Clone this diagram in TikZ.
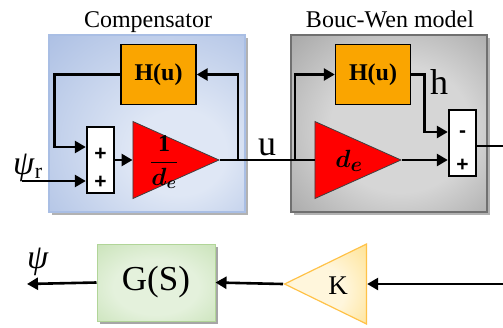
\documentclass[tikz,border=0pt]{standalone}
\usepackage{fontspec}
\setmainfont{Liberation Serif}
\setsansfont{Liberation Sans}
\usepackage{bm}
\usetikzlibrary{arrows.meta,shapes.geometric,shadows}

\definecolor{compdark}{HTML}{7F9CD4}
\definecolor{complight}{HTML}{DFE7F5}
\definecolor{compedge}{HTML}{A9BEE4}
\definecolor{boucdark}{HTML}{606060}
\definecolor{bouclight}{HTML}{D6D6D6}
\definecolor{boucedge}{HTML}{707070}
\definecolor{hyst}{HTML}{FAA500}
\definecolor{gainred}{HTML}{FF0000}
\definecolor{plantdark}{HTML}{A3CE86}
\definecolor{plantlight}{HTML}{E4F1DC}
\definecolor{kdark}{HTML}{FFD35A}
\definecolor{klight}{HTML}{FFF6DC}

\pgfdeclareradialshading{compshade}{\pgfpoint{10bp}{-10bp}}{color(0bp)=(complight); color(12bp)=(complight); color(68bp)=(compdark)}
\pgfdeclareradialshading{boucshade}{\pgfpoint{4bp}{-2bp}}{color(0bp)=(bouclight); color(18bp)=(bouclight); color(68bp)=(boucdark)}
\pgfdeclareradialshading{plantshade}{\pgfpoint{0bp}{-4bp}}{color(0bp)=(plantlight); color(18bp)=(plantlight); color(66bp)=(plantdark)}
\pgfdeclareradialshading{kshade}{\pgfpoint{-6bp}{-6bp}}{color(0bp)=(klight); color(16bp)=(klight); color(56bp)=(kdark)}

\begin{document}
\begin{tikzpicture}[
  x=1pt, y=-1pt,
  >={Triangle[length=11pt,width=12pt]},
  sig/.style={draw=black, line width=2.6pt},
  panel/.style={rectangle, minimum width=196pt, minimum height=177pt, line width=1.5pt,
    drop shadow={shadow xshift=3pt, shadow yshift=-3pt, fill=black!30, opacity=1}},
  ptitle/.style={font=\fontsize{24}{26}\selectfont, anchor=base, inner sep=0pt},
  hblock/.style={rectangle, draw=black, fill=hyst, line width=1.4pt, minimum width=75pt,
    minimum height=60pt, font=\bfseries\fontsize{24}{26}\selectfont},
  sumblock/.style={rectangle, draw=black, fill=white, line width=2.4pt, minimum width=27pt, minimum height=66pt},
  sgn/.style={font=\sffamily\bfseries\fontsize{21}{22}\selectfont, inner sep=0pt},
  gain/.style={isosceles triangle, isosceles triangle stretches, draw=black!75, fill=gainred,
    line width=0.8pt, inner sep=0pt, minimum width=77pt, minimum height=86pt, anchor=apex},
  sig label/.style={font=\fontsize{36}{38}\selectfont, inner sep=0pt},
]
\useasboundingbox (0,0) rectangle (503,327);

% compensator
\node[panel, draw=compedge, shading=compshade] (comp) at (147,123.5) {};
\node[ptitle] (comptitle) at (148,27) {Compensator};
\node[hblock] (hcomp) at (158.5,74.5) {H(u)};
\node[sumblock] (sumc) at (100.5,160) {};
\node[sgn] (sumcp1) at (100.5,154) {+};
\node[sgn] (sumcp2) at (100.5,182) {+};
\node[gain] (gainc) at (220,160) {};
\node[font=\fontsize{24}{26}\selectfont] (gainclbl) at (164,162) {$\displaystyle\frac{\mathbf{1}}{\bm{d_e}}$};
\coordinate (psirin) at (22,181);
\node[sig label, font=\fontsize{34}{36}\selectfont, anchor=base west] (psir) at (13,174) {\textit{ψ}\fontsize{22}{24}\selectfont\raisebox{-4pt}{r}};
\coordinate (ubranchc) at (238,160);

% Bouc-Wen model
\node[panel, draw=boucedge, shading=boucshade] (bouc) at (389,123.5) {};
\node[ptitle] (bouctitle) at (390,27) {Bouc-Wen model};
\node[hblock] (hbouc) at (373,74.5) {H(u)};
\node[gain] (gainb) at (402,160) {};
\node[font=\fontsize{28}{30}\selectfont] (gainblbl) at (349,161) {$\bm{d_e}$};
\node[sumblock] (sumb) at (462.5,143) {};
\node[sgn] (sumbm) at (462.5,134) {-};
\node[sgn] (sumbp) at (462.5,165) {+};
\node[sig label] (ulbl) at (267,147) {u};
\node[sig label] (hlbl) at (439,82) {h};
\coordinate (ubranchb) at (295,160);
\coordinate (boucout) at (503,146);

% plant
\node[rectangle, draw=plantdark!85, line width=1pt, shading=plantshade, minimum width=118pt, minimum height=77pt,
  drop shadow={shadow xshift=3pt, shadow yshift=-3pt, fill=black!35, opacity=1},
  font=\fontsize{35}{36}\selectfont] (plant) at (156,282.5) {G(S)};
\node[isosceles triangle, isosceles triangle stretches, shape border rotate=180, draw=kdark!80!orange,
  line width=1.2pt, shading=kshade, inner sep=0pt, minimum width=80pt, minimum height=82pt, anchor=apex] (kgain) at (283,284) {};
\node[font=\fontsize{27}{28}\selectfont] (klbl) at (338,286) {K};
\coordinate (fromright) at (503,284);
\coordinate (psiout) at (27,284);
\node[sig label, font=\fontsize{34}{36}\selectfont] (psi) at (38,262) {\textit{ψ}};

% signals
\draw[sig,->] (psirin) -- (psirin -| sumc.west);
\draw[sig,->] (hcomp.west) -- ++(-66,0) |- ([yshift=13pt]sumc.west);
\draw[sig,->] (sumc.east) -- (sumc.east -| gainc.west);
\draw[sig] (gainc.apex) -- (gainb.west);
\draw[sig,->] (ubranchc) |- (hcomp.east);
\draw[sig,->] (ubranchb) |- (hbouc.west);
\draw[sig,->] (hbouc.east) -- ++(13,0) |- ([yshift=11pt]sumb.west);
\draw[sig,->] (gainb.apex) -- (gainb.apex -| sumb.west);
\draw[sig] (sumb.east |- boucout) -- (boucout);
\draw[sig,->] (fromright) -- (kgain.east);
\draw[sig,->] (kgain.apex) -- (plant.east);
\draw[sig,->] (plant.west) -- (psiout);
\end{tikzpicture}
\end{document}
